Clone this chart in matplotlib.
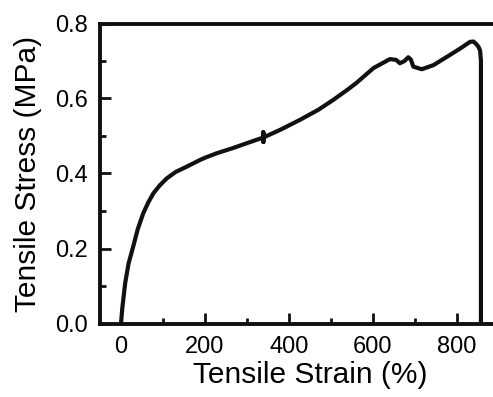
import matplotlib.pyplot as plt
from matplotlib.ticker import MultipleLocator

plt.rcParams['font.family'] = ['Liberation Sans', 'DejaVu Sans']

# stress-strain curve
strain = [0, 3, 10, 18, 29, 40, 53, 65, 77, 92, 109, 130, 156, 188, 200, 228,
          267, 300, 339, 339, 339, 339, 380, 426, 470, 505, 540, 561, 601,
          640, 655, 664, 675, 684, 690, 696, 716, 744, 783, 810, 831, 839,
          846, 851, 855, 857, 857]
stress = [0.0, 0.04, 0.108, 0.16, 0.205, 0.252, 0.294, 0.323, 0.347, 0.368,
          0.387, 0.404, 0.418, 0.436, 0.442, 0.454, 0.468, 0.481, 0.496,
          0.510, 0.484, 0.496, 0.517, 0.543, 0.57, 0.596, 0.624, 0.642,
          0.681, 0.705, 0.703, 0.694, 0.700, 0.71, 0.704, 0.685, 0.678,
          0.689, 0.716, 0.735, 0.751, 0.752, 0.745, 0.738, 0.728, 0.70, 0.0]

fig = plt.figure(figsize=(4.93, 3.97), dpi=100)
ax = fig.add_axes([100 / 493, 73.5 / 397, 420 / 493, 300 / 397])

ax.plot(strain, stress, color='#111111', lw=3.0, solid_joinstyle='round',
        snap=False)

ax.set_xlim(-50, 950)
ax.set_ylim(0, 0.8)
ax.xaxis.set_major_locator(MultipleLocator(200))
ax.xaxis.set_minor_locator(MultipleLocator(100))
ax.yaxis.set_major_locator(MultipleLocator(0.2))
ax.yaxis.set_minor_locator(MultipleLocator(0.1))
ax.yaxis.set_major_formatter(plt.FormatStrFormatter('%.1f'))

ax.tick_params(which='both', direction='in', top=False, right=False,
               width=2, labelsize=17, color='#111111')
ax.tick_params(which='major', length=8, pad=9)
ax.tick_params(which='minor', length=4)
for s in ax.spines.values():
    s.set_linewidth(2.8)
    s.set_color('#111111')
ax.spines['right'].set_visible(False)

ax.set_xlabel('Tensile Strain (%)', fontsize=21.5, labelpad=2)
ax.set_ylabel('Tensile Stress (MPa)', fontsize=21.5, labelpad=9)

fig.savefig('out.png', dpi=100)
